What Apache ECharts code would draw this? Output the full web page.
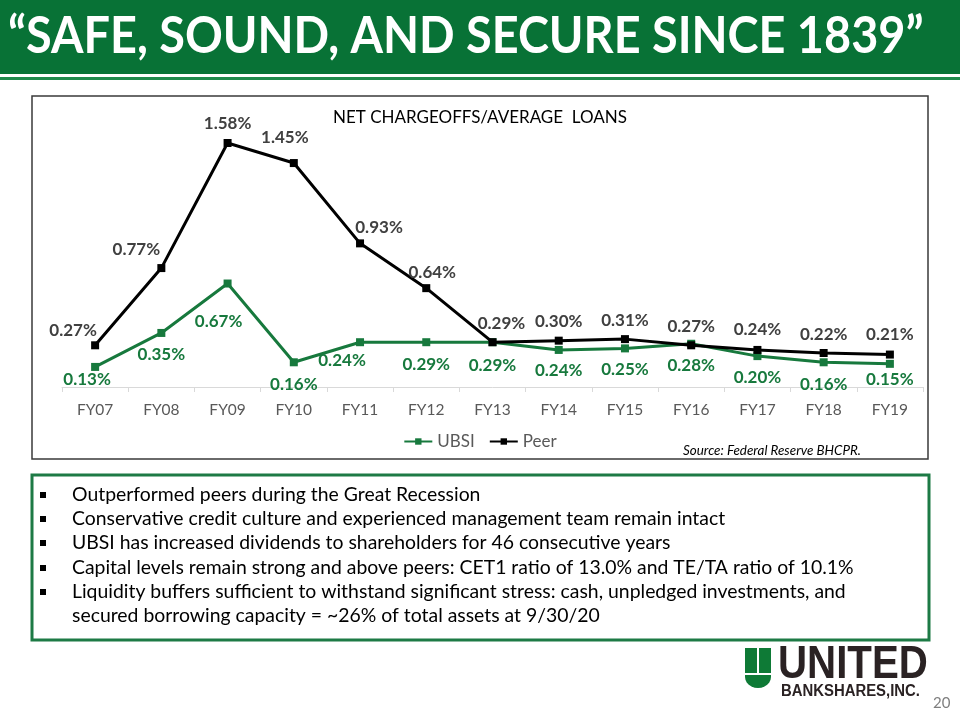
<!DOCTYPE html>
<html>
<head>
<meta charset="utf-8">
<script src="https://cdn.jsdelivr.net/npm/echarts@6/dist/echarts.min.js"></script>
<style>
html,body{margin:0;padding:0;background:#fff;}
#main{width:960px;height:720px;}
</style>
</head>
<body>
<div id="main"></div>
<script>
// ---- data ----
var categories = ['FY07','FY08','FY09','FY10','FY11','FY12','FY13','FY14','FY15','FY16','FY17','FY18','FY19'];
var ubsiValues = [0.13, 0.35, 0.67, 0.16, 0.29, 0.29, 0.29, 0.24, 0.25, 0.28, 0.20, 0.16, 0.15];
var ubsiLabels = ['0.13%','0.35%','0.67%','0.16%','0.24%','0.29%','0.29%','0.24%','0.25%','0.28%','0.20%','0.16%','0.15%'];
var peerValues = [0.27, 0.77, 1.58, 1.45, 0.93, 0.64, 0.29, 0.30, 0.31, 0.27, 0.24, 0.22, 0.21];
var seriesNames = ['UBSI', 'Peer'];
var chartTitle = 'NET CHARGEOFFS/AVERAGE  LOANS';
var slideTitle = '\u201cSAFE, SOUND, AND SECURE SINCE 1839\u201d';
var sourceNote = 'Source: Federal Reserve BHCPR.';
var bullets = [
  'Outperformed peers during the Great Recession',
  'Conservative credit culture and experienced management team remain intact',
  'UBSI has increased dividends to shareholders for 46 consecutive years',
  'Capital levels remain strong and above peers: CET1 ratio of 13.0% and TE/TA ratio of 10.1%',
  'Liquidity buffers sufficient to withstand significant stress: cash, unpledged investments, and',
  'secured borrowing capacity = ~26% of total assets at 9/30/20'
];
var pageNumber = '20';

// ---- layout (label offsets, px) ----
var peerOffsets = [[-22,-15],[-25,-19],[0,-19],[-9,-26],[19,-16],[6,-16],[9,-19],[0,-19],[0,-19],[0,-19],[0,-20],[0,-19],[0,-20]];
var ubsiOffsets = [[-8,13],[0,22],[-9,38],[0,22],[-18,18],[0,22],[0,23],[0,21],[0,21],[0,22],[0,21],[0,22],[0,16]];

var GREEN = '#17793d';
var FONT = 'Lato, "Open Sans", sans-serif';

var ubsiData = ubsiValues.map(function (v, i) {
  return { value: v, label: { offset: ubsiOffsets[i], formatter: ubsiLabels[i] } };
});
var peerData = peerValues.map(function (v, i) {
  return { value: v, label: { offset: peerOffsets[i], formatter: v.toFixed(2) + '%' } };
});

// logo bowl outline
var bowl = [[745, 675], [771, 675]];
for (var k = 0; k <= 12; k++) {
  var a = Math.PI * k / 12;
  bowl.push([758 + 13 * Math.cos(a), 677 + 11 * Math.sin(a)]);
}

var graphics = [
  { type: 'rect', shape: { x: 0, y: 0, width: 960, height: 74 }, style: { fill: '#087236' }, z: 0 },
  { type: 'rect', shape: { x: 0, y: 77, width: 960, height: 3 }, style: { fill: '#1f8a4c' }, z: 0 },
  { type: 'text', x: 8, y: 36, scaleX: 0.9, style: { text: slideTitle, fill: '#ffffff', font: 'bold 52px ' + FONT, textVerticalAlign: 'middle', shadowColor: 'rgba(0,0,0,0.75)', shadowBlur: 3, shadowOffsetX: 2, shadowOffsetY: 2 }, z: 5 },
  { type: 'rect', shape: { x: 32, y: 96, width: 896, height: 363 }, style: { fill: 'none', stroke: '#3a3a3a', lineWidth: 1.5 }, z: 0 },
  { type: 'text', x: 683, y: 451, style: { text: sourceNote, fill: '#000', font: 'italic 13.4px ' + FONT, textVerticalAlign: 'middle' }, z: 5 },
  { type: 'rect', shape: { x: 32, y: 475, width: 897, height: 165 }, style: { fill: 'none', stroke: '#1d7a45', lineWidth: 3 }, z: 0 }
];
var lineYs = [495, 519, 543, 568, 592, 616];
bullets.forEach(function (b, i) {
  if (i < 5) {
    graphics.push({ type: 'rect', shape: { x: 40, y: lineYs[i] - 3, width: 6, height: 6 }, style: { fill: '#000' }, z: 5 });
  }
  graphics.push({ type: 'text', x: 72, y: lineYs[i], style: { text: b, fill: '#000', font: '19.4px ' + FONT, textVerticalAlign: 'middle' }, z: 5 });
});
// logo
graphics.push(
  { type: 'rect', shape: { x: 745, y: 648, width: 12, height: 25 }, style: { fill: '#0e7a36' }, z: 5 },
  { type: 'rect', shape: { x: 759, y: 648, width: 12, height: 25 }, style: { fill: '#0e7a36' }, z: 5 },
  { type: 'polygon', shape: { points: bowl }, style: { fill: '#0e7a36' }, z: 5 },
  { type: 'text', x: 778, y: 665, scaleX: 0.875, style: { text: 'UNITED', fill: '#2a2223', font: 'bold 46px "Liberation Sans Narrow", "Liberation Sans", sans-serif', textVerticalAlign: 'middle' }, z: 5 },
  { type: 'text', x: 781, y: 692, scaleX: 0.93, style: { text: 'BANKSHARES,INC.', fill: '#2a2223', font: 'bold 16px "Liberation Sans", sans-serif', textVerticalAlign: 'middle' }, z: 5 },
  { type: 'text', x: 933, y: 703, style: { text: pageNumber, fill: '#7f7f7f', font: '15px ' + FONT, textVerticalAlign: 'middle' }, z: 5 }
);

var chart = echarts.init(document.getElementById('main'), null, { renderer: 'canvas' });
chart.setOption({
  animation: false,
  backgroundColor: '#fff',
  title: {
    text: chartTitle, left: 'center', top: 104,
    textStyle: { fontFamily: FONT, fontSize: 17, fontWeight: 'normal', color: '#000' }
  },
  legend: {
    data: seriesNames, top: 428, left: 'center', itemWidth: 28, itemHeight: 8, itemGap: 14,
    textStyle: { fontFamily: FONT, fontSize: 17, color: '#595959' }
  },
  grid: { left: 62, right: 37, top: 109, height: 278, containLabel: false },
  xAxis: {
    type: 'category', data: categories, boundaryGap: true,
    axisLine: { lineStyle: { color: '#d9d9d9', width: 1 } },
    axisTick: { show: true, length: 5, lineStyle: { color: '#d9d9d9' } },
    axisLabel: { fontFamily: FONT, fontSize: 15.5, color: '#595959', margin: 15 }
  },
  yAxis: { type: 'value', min: 0, max: 1.8, show: false, splitLine: { show: false } },
  graphic: graphics,
  series: [
    {
      name: seriesNames[0], type: 'line', data: ubsiData, symbol: 'rect', symbolSize: 8,
      lineStyle: { color: GREEN, width: 3 }, itemStyle: { color: GREEN },
      label: { show: true, position: 'inside', fontFamily: FONT, fontSize: 17, fontWeight: 'bold', color: GREEN },
      z: 3
    },
    {
      name: seriesNames[1], type: 'line', data: peerData, symbol: 'rect', symbolSize: 8,
      lineStyle: { color: '#000', width: 3 }, itemStyle: { color: '#000' },
      label: { show: true, position: 'inside', fontFamily: FONT, fontSize: 17, fontWeight: 'bold', color: '#404040' },
      z: 4
    }
  ]
});
</script>
</body>
</html>
